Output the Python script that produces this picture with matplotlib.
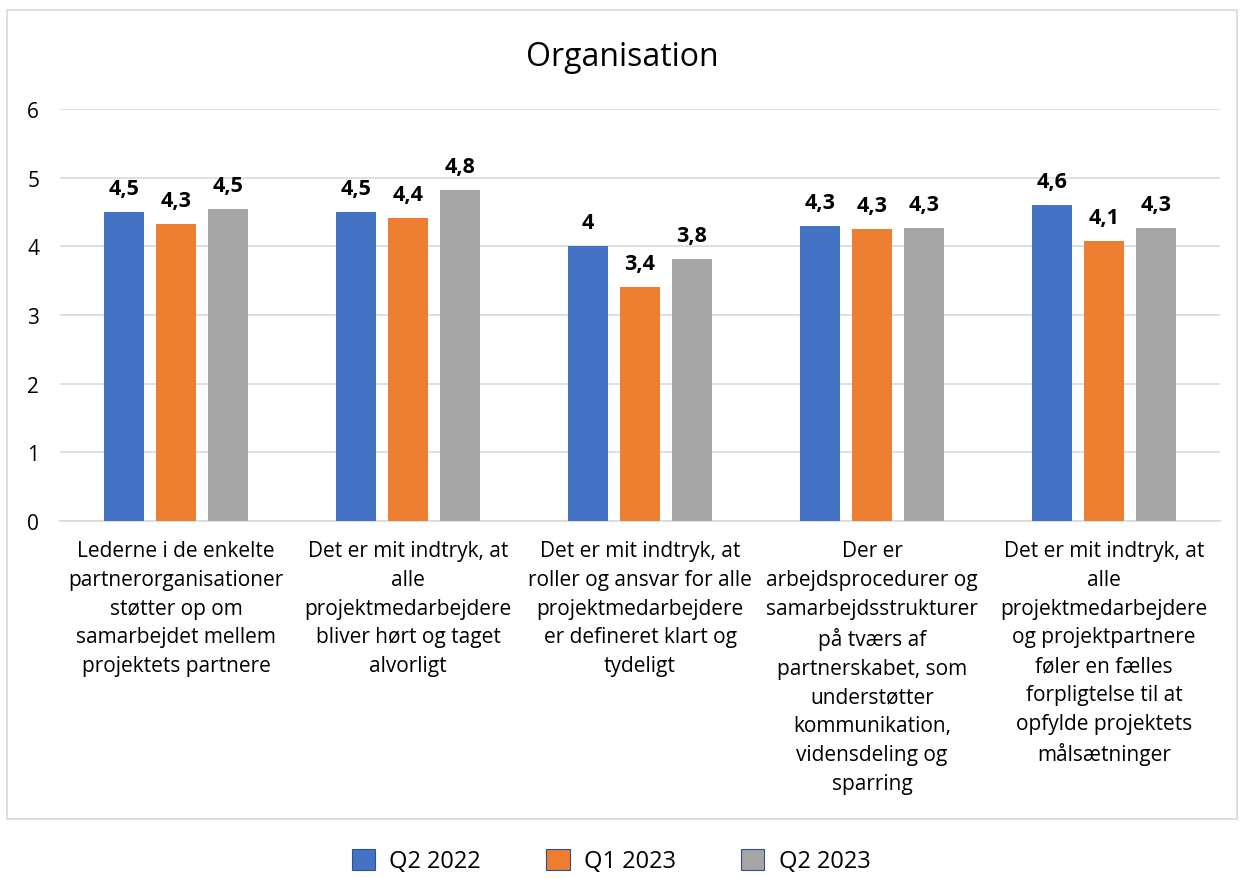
import matplotlib
matplotlib.use("Agg")
import matplotlib.pyplot as plt
from matplotlib.patches import Rectangle
import numpy as np

categories = [
    "Lederne i de enkelte\npartnerorganisationer\nstøtter op om\nsamarbejdet mellem\nprojektets partnere",
    "Det er mit indtryk, at\nalle\nprojektmedarbejdere\nbliver hørt og taget\nalvorligt",
    "Det er mit indtryk, at\nroller og ansvar for alle\nprojektmedarbejdere\ner defineret klart og\ntydeligt",
    "Der er\narbejdsprocedurer og\nsamarbejdsstrukturer\npå tværs af\npartnerskabet, som\nunderstøtter\nkommunikation,\nvidensdeling og\nsparring",
    "Det er mit indtryk, at\nalle\nprojektmedarbejdere\nog projektpartnere\nføler en fælles\nforpligtelse til at\nopfylde projektets\nmålsætninger",
]
series_names = ["Q2 2022", "Q1 2023", "Q2 2023"]
q2_2022 = [4.50, 4.50, 4.00, 4.30, 4.60]
q1_2023 = [4.33, 4.41, 3.41, 4.25, 4.08]
q2_2023 = [4.54, 4.82, 3.82, 4.27, 4.27]
labels_q2_2022 = ["4,5", "4,5", "4", "4,3", "4,6"]
labels_q1_2023 = ["4,3", "4,4", "3,4", "4,3", "4,1"]
labels_q2_2023 = ["4,5", "4,8", "3,8", "4,3", "4,3"]
yticks = [0, 1, 2, 3, 4, 5, 6]
title = "Organisation"

colors = ["#4472C4", "#ED7D31", "#A5A5A5"]
font = ["Open Sans", "DejaVu Sans"]
plt.rcParams["font.family"] = font

W, H = 1244, 879
fig = plt.figure(figsize=(W / 100, H / 100), dpi=100)
ax = fig.add_axes([60 / W, 1 - 522 / H, 1160 / W, (522 - 110) / H])

x = np.arange(len(categories))
bw = 0.172
step = 0.224
all_vals = [q2_2022, q1_2023, q2_2023]
all_labels = [labels_q2_2022, labels_q1_2023, labels_q2_2023]
for i, (vals, labs, c, n) in enumerate(zip(all_vals, all_labels, colors, series_names)):
    xs = x + (i - 1) * step
    ax.bar(xs, vals, bw, color=c, label=n, zorder=3)
    for xi, v, lab in zip(xs, vals, labs):
        ax.text(xi, v + 0.19, lab, ha="center", va="bottom", fontsize=15.5,
                fontweight="bold", color="black")

ax.set_xlim(-0.5, len(categories) - 0.5)
ax.set_ylim(0, 6)
ax.set_yticks(yticks)
ax.set_yticklabels([str(t) for t in yticks], fontsize=15)
ax.yaxis.grid(True, color="#d9d9d9", linewidth=1.2, zorder=0)
ax.set_axisbelow(True)
for s in ["top", "right", "left"]:
    ax.spines[s].set_visible(False)
ax.spines["bottom"].set_color("#d9d9d9")
ax.spines["bottom"].set_linewidth(1.2)
ax.tick_params(axis="both", length=0)
ax.tick_params(axis="y", pad=15)
ax.set_xticks(x)
ax.set_xticklabels(categories, fontsize=15, va="top", linespacing=1.48)
ax.tick_params(axis="x", pad=14)

fig.text(0.5, 1 - 57 / H, title, ha="center", va="center", fontsize=23)

border = Rectangle((7 / W, 1 - 820 / H), (1237 - 7) / W, (820 - 11) / H,
                   transform=fig.transFigure, fill=False, edgecolor="#d9d9d9",
                   linewidth=1.2)
fig.patches.append(border)

handles = [Rectangle((0, 0), 1, 1, facecolor=c, edgecolor="#2F528F", linewidth=0.8) for c in colors]
fig.legend(handles, series_names, loc="center", bbox_to_anchor=(611 / W, 1 - 862 / H),
           ncol=3, frameon=False, fontsize=17, handlelength=1.0, handleheight=1.0,
           columnspacing=2.75, handletextpad=0.6)

fig.savefig("out.png", dpi=100, facecolor="white")
